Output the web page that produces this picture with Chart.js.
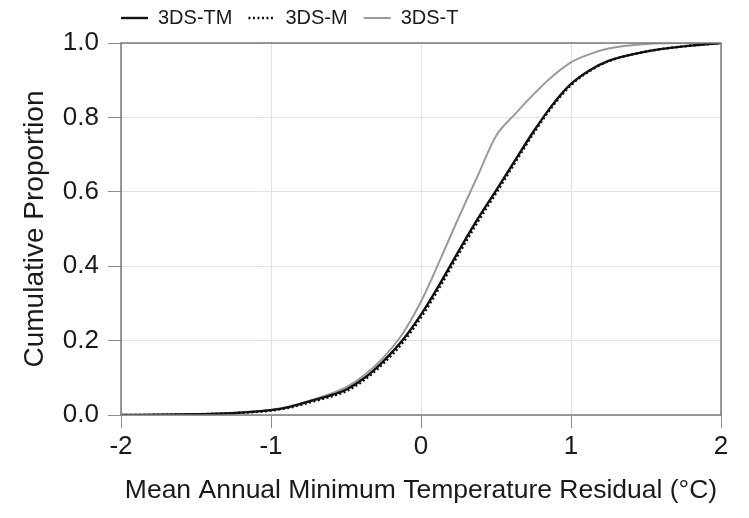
<!DOCTYPE html>
<html><head><meta charset="utf-8">
<script src="https://cdn.jsdelivr.net/npm/chart.js@4.4.1/dist/chart.umd.min.js"></script>
<style>html,body{margin:0;padding:0;background:#fff;} canvas{display:block}</style>
</head><body>
<canvas id="c" width="749" height="518"></canvas>
<script>
// Residual (°C) sample positions
const residuals = [-2, -1.75, -1.5, -1.25, -1, -0.875, -0.75, -0.625, -0.5, -0.375, -0.25, -0.125, 0, 0.125, 0.25, 0.375, 0.5, 0.625, 0.75, 0.875, 1, 1.125, 1.25, 1.5, 1.75, 2];
// Cumulative proportions
const cdfTM = [0, 0.0005, 0.002, 0.005, 0.013, 0.022, 0.036, 0.05, 0.068, 0.1, 0.145, 0.2, 0.27, 0.352, 0.44, 0.525, 0.603, 0.683, 0.762, 0.833, 0.89, 0.927, 0.952, 0.977, 0.991, 1];
const cdfM  = [0, 0.0005, 0.002, 0.005, 0.012, 0.02, 0.033, 0.047, 0.064, 0.095, 0.139, 0.193, 0.262, 0.344, 0.432, 0.517, 0.596, 0.677, 0.757, 0.829, 0.887, 0.925, 0.951, 0.977, 0.991, 1];
const cdfT  = [0, 0.0005, 0.002, 0.006, 0.014, 0.023, 0.038, 0.054, 0.074, 0.108, 0.155, 0.217, 0.305, 0.415, 0.53, 0.64, 0.75, 0.808, 0.862, 0.91, 0.948, 0.97, 0.985, 0.997, 1, 1];
const seriesNames = ['3DS-TM', '3DS-M', '3DS-T'];
const xTicks = [-2, -1, 0, 1, 2];
const yTicks = [0, 0.2, 0.4, 0.6, 0.8, 1.0];

const FONT = "'Liberation Sans', Arial, sans-serif";
const pts = vals => residuals.map((x, i) => ({x: x, y: vals[i]}));
const LEG_PAD = 16;

const boxPlugin = {
  id: 'box',
  afterDatasetsDraw(chart) {
    const {ctx, chartArea: a} = chart;
    ctx.save();
    ctx.strokeStyle = '#7a7a7a';
    ctx.lineWidth = 1.5;
    ctx.strokeRect(a.left, a.top, a.right - a.left, a.bottom - a.top);
    ctx.restore();
  }
};
const legendShift = {
  id: 'legendShift',
  afterLayout(chart) {
    const lg = chart.legend;
    lg.left = chart.chartArea.left - LEG_PAD;
    lg.top = 8 - LEG_PAD;
  }
};

new Chart(document.getElementById('c'), {
  type: 'line',
  data: {
    datasets: [
      {label: seriesNames[0], data: pts(cdfTM), borderColor: '#111', backgroundColor: '#111', borderWidth: 2.4, pointRadius: 0, cubicInterpolationMode: 'monotone'},
      {label: seriesNames[1], data: pts(cdfM), borderColor: '#111', backgroundColor: '#111', borderWidth: 2.5, borderDash: [2, 2.5], pointRadius: 0, cubicInterpolationMode: 'monotone'},
      {label: seriesNames[2], data: pts(cdfT), borderColor: '#9a9a9a', backgroundColor: '#9a9a9a', borderWidth: 2, pointRadius: 0, cubicInterpolationMode: 'monotone'}
    ]
  },
  options: {
    responsive: false,
    animation: false,
    devicePixelRatio: 1,
    layout: {padding: {left: 0, right: 28, top: 0, bottom: 0}},
    plugins: {
      tooltip: {enabled: false},
      legend: {
        position: 'top',
        align: 'start',
        maxHeight: 43,
        labels: {
          usePointStyle: true,
          pointStyleWidth: 27,
          padding: LEG_PAD,
          color: '#1a1a1a',
          font: {family: FONT, size: 20},
          generateLabels(chart) {
            return chart.data.datasets.map((d, i) => ({
              text: d.label, datasetIndex: i, hidden: false,
              strokeStyle: d.borderColor, fillStyle: d.borderColor,
              lineWidth: d.borderWidth, lineDash: d.borderDash || [],
              pointStyle: 'line', fontColor: '#1a1a1a'
            }));
          }
        }
      }
    },
    scales: {
      x: {
        type: 'linear', min: -2, max: 2,
        afterBuildTicks(s) { s.ticks = xTicks.map(v => ({value: v})); },
        afterFit(s) { s.height = 103; },
        grid: {color: '#e6dfdf', lineWidth: 1, tickColor: '#8a8a8a', tickLength: 13},
        border: {display: false},
        ticks: {color: '#1a1a1a', font: {family: FONT, size: 26}, padding: 3, maxRotation: 0, autoSkip: false, callback: v => String(v)},
        title: {display: true, text: 'Mean Annual Minimum Temperature Residual (°C)', color: '#1a1a1a', font: {family: FONT, size: 26.5}, padding: {top: 0, bottom: 11}}
      },
      y: {
        type: 'linear', min: 0, max: 1,
        afterBuildTicks(s) { s.ticks = yTicks.map(v => ({value: v})); },
        afterFit(s) { s.width = 121; },
        grid: {color: '#e6dfdf', lineWidth: 1, tickColor: '#8a8a8a', tickLength: 13},
        border: {display: false},
        ticks: {color: '#1a1a1a', font: {family: FONT, size: 26}, padding: 9, autoSkip: false, callback: v => Number(v).toFixed(1)},
        title: {display: true, text: 'Cumulative Proportion', color: '#1a1a1a', font: {family: FONT, size: 28}, padding: {top: 18, bottom: 0}}
      }
    }
  },
  plugins: [boxPlugin, legendShift]
});
</script>
</body></html>
